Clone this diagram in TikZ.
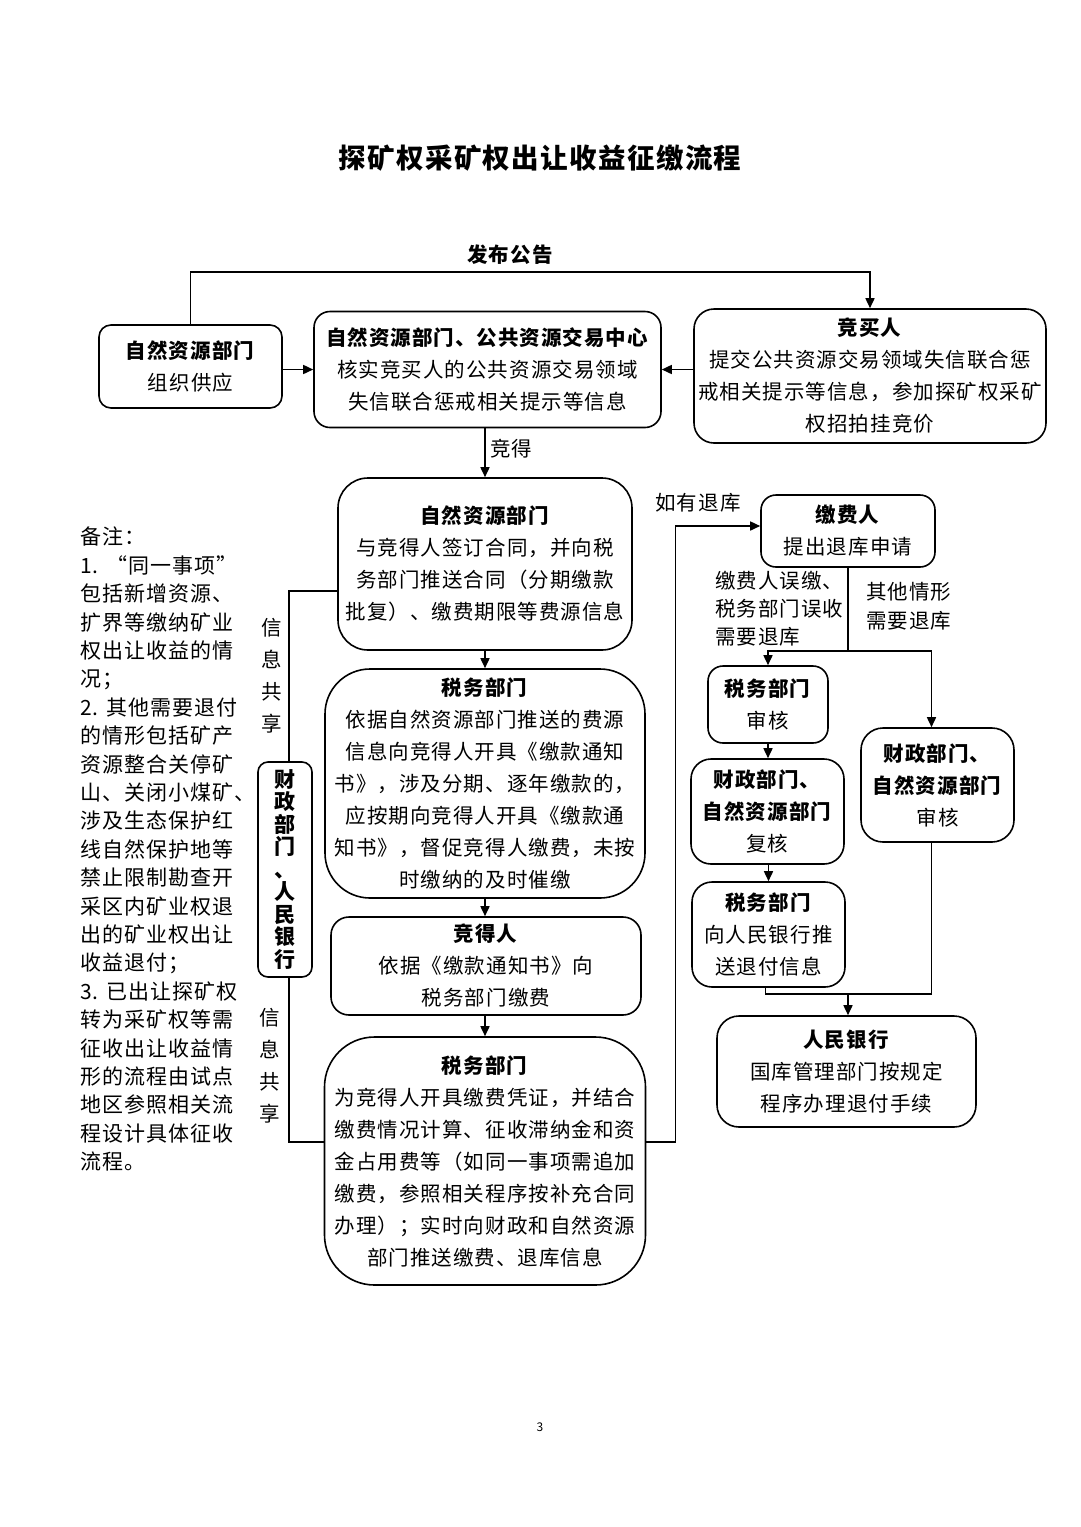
\documentclass[tikz,border=0pt]{standalone}
\usepackage{fontspec}
\setmainfont{Noto Sans CJK SC}[LetterSpace=5]
\usetikzlibrary{arrows.meta}
\newcommand\bodysize{\fontsize{20.5}{32}\selectfont}
\newcommand\notesize{\fontsize{21}{28.4}\selectfont}

\begin{document}
\begin{tikzpicture}[x=1pt,y=-1pt,
        box/.style={draw, line width=1.6pt, rounded corners=#1, align=center, inner sep=0pt, font=\bodysize},
        box/.default=16pt,
        arr/.style={line width=1.6pt, -{Triangle[length=10pt,width=9pt]}},
        link/.style={line width=1.6pt},
        lbl/.style={inner sep=0pt, font=\bodysize}]
        \fill[white] (0,0) rectangle (1080,1527);
        \useasboundingbox (0,0) rectangle (1080,1527);
        \node[inner sep=0pt, font=\bfseries\fontsize{27.5}{30}\selectfont] (title) at (540,158) {探矿权采矿权出让收益征缴流程};
        % top row
        \node[box=12pt, minimum width=183pt, minimum height=83pt] (A) at (190.5,366.5) {\textbf{自然资源部门}\\组织供应};
        \node[box=16pt, minimum width=347pt, minimum height=116pt] (B) at (487.5,369.5) {\textbf{自然资源部门、公共资源交易中心}\\核实竞买人的公共资源交易领域\\失信联合惩戒相关提示等信息};
        \node[box=20pt, minimum width=352pt, minimum height=134pt] (C) at (870,376) {\textbf{竞买人}\\提交公共资源交易领域失信联合惩\\戒相关提示等信息，参加探矿权采矿\\权招拍挂竞价};
        % main column
        \node[box=30pt, minimum width=294pt, minimum height=172pt] (D) at (485,564) {\textbf{自然资源部门}\\与竞得人签订合同，并向税\\务部门推送合同（分期缴款\\批复）、缴费期限等费源信息};
        \node[box=45pt, minimum width=320pt, minimum height=229pt] (E) at (485,783.5) {\textbf{税务部门}\\依据自然资源部门推送的费源\\信息向竞得人开具《缴款通知\\书》，涉及分期、逐年缴款的，\\应按期向竞得人开具《缴款通\\知书》，督促竞得人缴费，未按\\时缴纳的及时催缴};
        \node[box=18pt, minimum width=310pt, minimum height=98pt] (F) at (486,966) {\textbf{竞得人}\\依据《缴款通知书》向\\税务部门缴费};
        \node[box=50pt, minimum width=321pt, minimum height=248pt] (G) at (485,1161) {\textbf{税务部门}\\为竞得人开具缴费凭证，并结合\\缴费情况计算、征收滞纳金和资\\金占用费等（如同一事项需追加\\缴费，参照相关程序按补充合同\\办理）；实时向财政和自然资源\\部门推送缴费、退库信息};
        \node[box=10pt, minimum width=54pt, minimum height=215pt, font=\bfseries\fontsize{21}{22.5}\selectfont] (H) at (285,869.5) {财\\政\\部\\门\\、\\人\\民\\银\\行};
        % refund column
        \node[box=15pt, minimum width=174pt, minimum height=72pt] (I) at (848,531) {\textbf{缴费人}\\提出退库申请};
        \node[box=15pt, minimum width=120pt, minimum height=77pt] (J) at (768,704.5) {\textbf{税务部门}\\审核};
        \node[box=20pt, minimum width=153pt, minimum height=105pt] (L) at (767.5,811.5) {\textbf{财政部门、}\\\textbf{自然资源部门}\\复核};
        \node[box=20pt, minimum width=153pt, minimum height=105pt] (M) at (768.5,934.5) {\textbf{税务部门}\\向人民银行推\\送退付信息};
        \node[box=22pt, minimum width=153pt, minimum height=114pt] (K) at (937.5,785) {\textbf{财政部门、}\\\textbf{自然资源部门}\\审核};
        \node[box=22pt, minimum width=259pt, minimum height=111pt] (N) at (846.5,1071.5) {\textbf{人民银行}\\国库管理部门按规定\\程序办理退付手续};
        % labels
        \node[lbl, font=\bfseries\bodysize] (pub) at (510,255) {发布公告};
        \node[lbl, anchor=west] (win) at (490,449) {竞得};
        \node[lbl] (refund) at (698,503) {如有退库};
        \node[lbl, align=left, anchor=north west, font=\fontsize{20.5}{28}\selectfont] (case1) at (715,571) {缴费人误缴、\\税务部门误收\\需要退库};
        \node[lbl, align=left, anchor=north west, font=\fontsize{20.5}{29}\selectfont] (case2) at (866,582) {其他情形\\需要退库};
        \node[lbl, align=center] (share1) at (272,676) {信\\息\\共\\享};
        \node[lbl, align=center] (share2) at (270,1066) {信\\息\\共\\享};
        \node[inner sep=0pt, align=left, anchor=north west, font=\notesize] (note) at (80,527) {备注：\\1. “同一事项”\\包括新增资源、\\扩界等缴纳矿业\\权出让收益的情\\况；\\2. 其他需要退付\\的情形包括矿产\\资源整合关停矿\\山、关闭小煤矿、\\涉及生态保护红\\线自然保护地等\\禁止限制勘查开\\采区内矿业权退\\出的矿业权出让\\收益退付；\\3. 已出让探矿权\\转为采矿权等需\\征收出让收益情\\形的流程由试点\\地区参照相关流\\程设计具体征收\\流程。};
        \node[inner sep=0pt, font=\fontsize{12}{14}\selectfont] (page) at (540,1427) {3};
        % connectors
        \draw[arr] (A.north) -- ++(0,-52) -| (C.north);
        \draw[arr] (B.west -| A.east) -- (B.west);
        \draw[arr] (C.west |- B.east) -- (B.east);
        \draw[arr] (D.north |- B.south) -- (D.north);
        \draw[arr] (D.south) -- (E.north);
        \draw[arr] (E.south) -- (F.north -| E.south);
        \draw[arr] (F.south -| G.north) -- (G.north);
        \draw[link] ([yshift=-27pt]D.west) -| ([xshift=4pt]H.north);
        \draw[link] ([xshift=4pt]H.south) |- ([yshift=19pt]G.west);
        \draw[arr] ([yshift=19pt]G.east) -- ++(29,0) |- ([yshift=5pt]I.west);
        \coordinate (split) at (848,651);
        \draw[link] (I.south) -- (split);
        \draw[arr] (split) -| (J.north);
        \draw[arr] (split) -| ([xshift=-6pt]K.north);
        \draw[arr] (J.south) -- (L.north -| J.south);
        \draw[arr] (L.south -| M.north) -- (M.north);
        \coordinate (merge) at (848,994);
        \draw[link] ([xshift=-3pt]M.south) |- (merge);
        \draw[link] ([xshift=-6pt]K.south) |- (merge);
        \draw[arr] (merge) -- (merge |- N.north);
\end{tikzpicture}
\end{document}
